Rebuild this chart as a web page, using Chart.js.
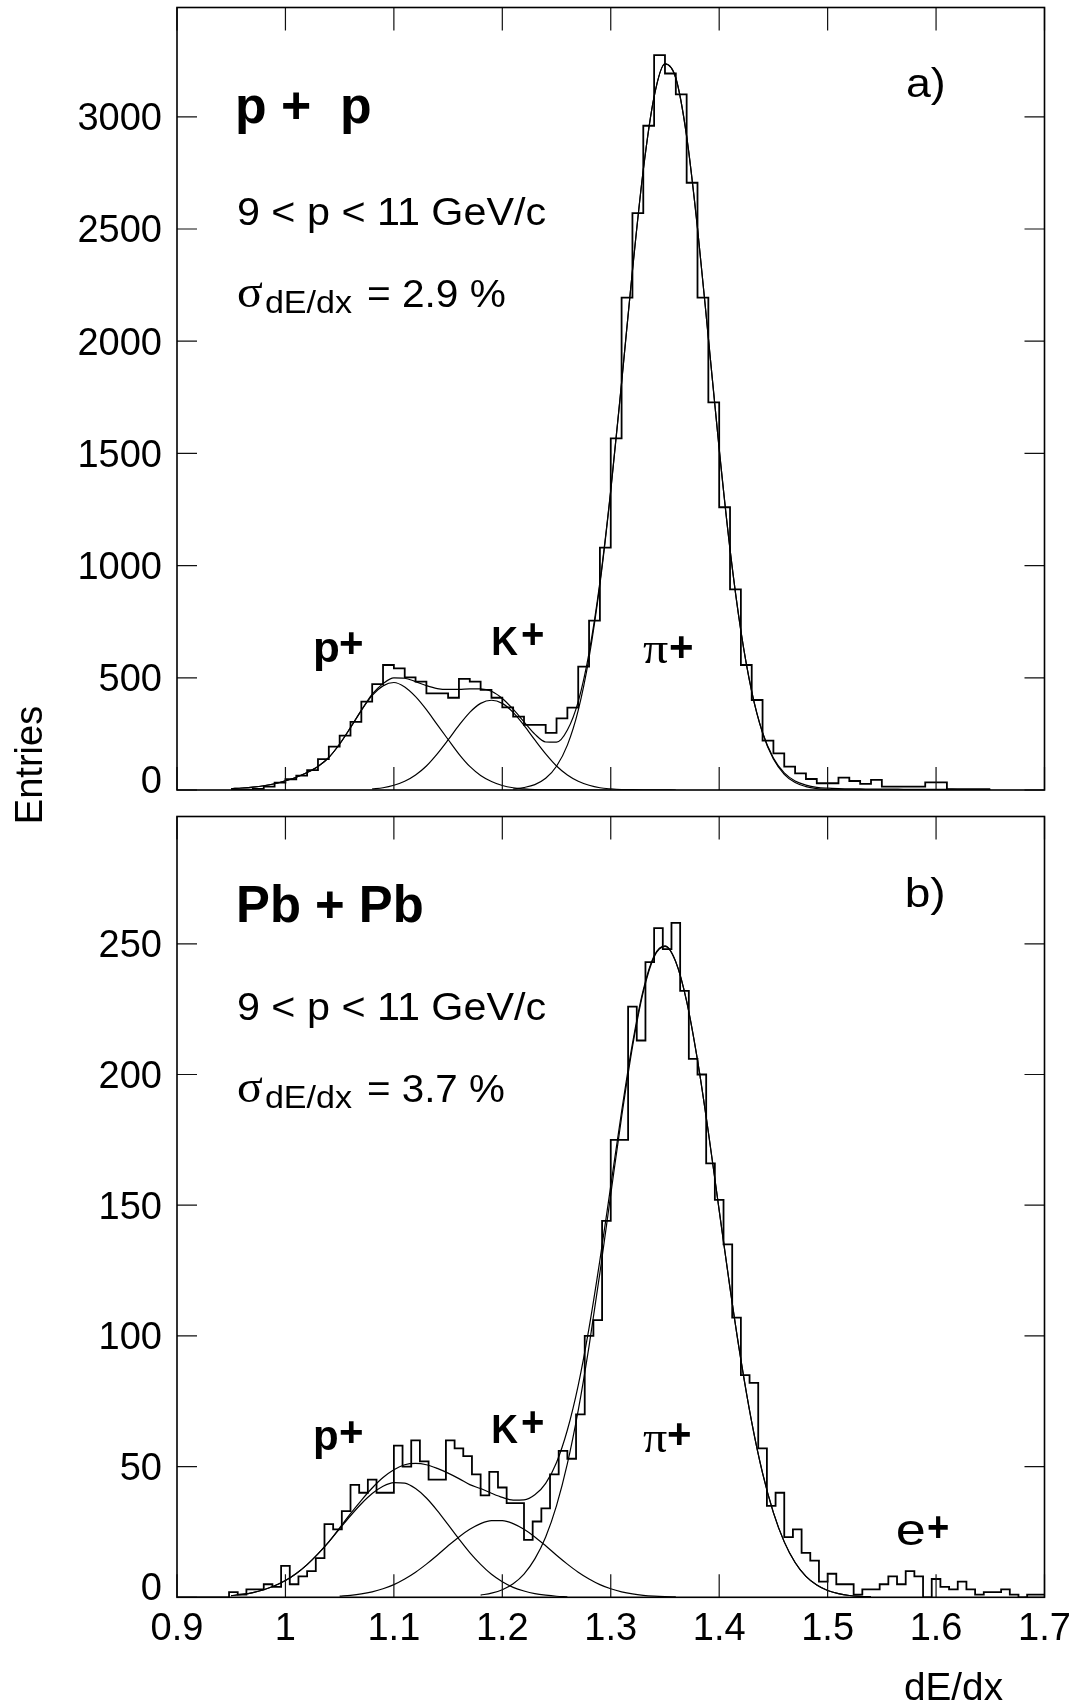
<!DOCTYPE html>
<html><head><meta charset="utf-8">
<script src="https://cdn.jsdelivr.net/npm/chart.js"></script>
<style>
html,body{margin:0;padding:0;background:#fff;width:1077px;height:1705px;overflow:hidden}
canvas{position:absolute;left:0;top:0}
</style></head><body>
<canvas id="c1" width="1077" height="1705"></canvas>
<canvas id="c2" width="1077" height="1705"></canvas>
<script>
// ---------- axes ----------
const xMin = 0.9, xMax = 1.7;
const xTickValues = [0.9, 1.0, 1.1, 1.2, 1.3, 1.4, 1.5, 1.6, 1.7];
const xTickLabels = ['0.9', '1', '1.1', '1.2', '1.3', '1.4', '1.5', '1.6', '1.7'];
const ppYMax = 3487;
const ppYTicks = [0, 500, 1000, 1500, 2000, 2500, 3000];
const pbYMax = 298.7;
const pbYTicks = [0, 50, 100, 150, 200, 250];

// ---------- p + p histogram (bins of 0.01 starting at 0.95) ----------
const ppBinStart = 0.95, ppBinWidth = 0.01;
const ppCounts = [
  0, 2, 5, 15, 33, 48, 64, 89, 138, 193,
  242, 304, 394, 472, 557, 542, 502, 483, 431, 431,
  411, 495, 483, 446, 411, 368, 327, 290, 290, 255,
  319, 367, 550, 755, 1080, 1567, 2194, 2571, 2960, 3275,
  3193, 3100, 2706, 2194, 1727, 1260, 894, 557, 401, 220,
  163, 104, 74, 49, 30, 30, 55, 40, 27, 45,
  15, 15, 15, 15, 34, 34, 4, 4, 4, 4
];
// fit curves, sampled every 0.01
const fitStep = 0.01;
const ppTotalStart = 0.95;
const ppTotal = [6, 9, 13, 19, 28, 41, 57, 78, 105, 145, 205, 278, 355, 427, 474, 500, 498, 483, 465, 452,
  448, 448, 451, 451, 440, 408, 360, 304, 249, 214, 213, 267, 394, 611, 926, 1337, 1816, 2315, 2763, 3090,
  3236, 3173, 2913, 2504, 2015, 1520, 1072, 709, 440, 256, 142, 76, 40, 22, 12, 8, 6, 5, 5, 4,
  4, 4, 3, 3, 3, 3, 3, 2, 2, 2, 2];
const ppProtonStart = 0.95;
const ppProton = [6, 9, 13, 19, 28, 41, 57, 78, 105, 145, 205, 278, 355, 422, 464, 479, 459, 416, 358, 291,
  225, 160, 105, 65, 38, 20, 10, 5, 2, 1, 0.5, 0.3, 0.2, 0.1, 0.1, 0];
const ppKaonStart = 1.08;
const ppKaon = [5, 10, 21, 39, 67, 107, 161, 223, 288, 346, 386, 400, 386, 346, 288, 223, 161, 107, 67, 39,
  21, 10, 5, 2, 1.3, 0.8, 0.4, 0.2, 0.1];
const ppPionStart = 1.21;
const ppPion = [4, 11, 24, 52, 106, 200, 355, 590, 916, 1332, 1814, 2314, 2763, 3090, 3236, 3173, 2913, 2504, 2015, 1520,
  1072, 709, 438, 254, 138, 70, 33, 15, 6, 2, 1, 0.5, 0.2, 0.1, 0];

// ---------- Pb + Pb histogram (bins of 0.008 starting at 0.9) ----------
const pbBinStart = 0.9, pbBinWidth = 0.008;
const pbCounts = [
  0, 0, 0, 0, 0, 0, 2, 1, 3, 3,
  5, 4, 12, 5, 8, 10, 15, 28, 26, 33,
  43, 40, 45, 40, 40, 58, 50, 60, 52, 45,
  45, 60, 57, 54, 47, 39, 48, 42, 36, 36,
  22, 29, 34, 47, 56, 53, 70, 100, 106, 144,
  175, 175, 226, 213, 243, 256, 248, 258, 232, 206,
  200, 166, 152, 135, 107, 85, 82, 57, 35, 40,
  23, 26, 17, 14, 6, 9, 5, 5, 1, 3,
  3, 5, 8, 5, 10, 8, 0, 7, 4, 3,
  6, 3, 1, 2, 2, 3, 1, 0, 1, 1
];
const pbTotalStart = 0.95;
const pbTotal = [0.65, 1.1, 1.8, 2.9, 4.4, 6.4, 9.1, 12.5, 16.6, 21.2, 26.6, 32.0, 37.1, 41.8, 45.8, 48.8, 50.7, 51.2, 50.7, 49.3,
  47.5, 45.4, 43.1, 41.6, 39.8, 38.2, 37.2, 37.3, 39.2, 43.6, 51.6, 64.0, 81.1, 103.1, 129.0, 157.4, 185.8, 211.8, 232.4, 245.4,
  249.2, 243.1, 228, 205.5, 178, 148, 118.3, 90.9, 67, 47.5, 32.4, 21.2, 13.3, 8, 4.7, 2.6, 1.4, 0.7, 0.35, 0.17];
const pbProtonStart = 0.95;
const pbProton = [0.65, 1.1, 1.8, 2.9, 4.4, 6.4, 9.1, 12.5, 16.6, 21.2, 26.2, 31.2, 35.8, 39.7, 42.5, 43.9, 43.7, 41.6, 38.0, 33.2,
  27.8, 22.3, 17.1, 12.6, 8.8, 5.95, 3.8, 2.4, 1.4, 0.8, 0.4, 0.2];
const pbKaonStart = 1.05;
const pbKaon = [0.44, 0.77, 1.3, 2.1, 3.25, 4.85, 7.0, 9.6, 12.7, 16.1, 19.7, 23.1, 26.0, 28.2, 29.35, 29.35, 28.2, 26.0, 23.1, 19.7,
  16.1, 12.7, 9.6, 7.0, 4.85, 3.25, 2.1, 1.3, 0.77, 0.44, 0.24, 0.13];
const pbPionStart = 1.18;
const pbPion = [0.82, 1.6, 2.9, 5.2, 8.9, 14.7, 23.1, 35.1, 51.1, 71.5, 96.1, 124.1, 154.1, 183.7, 210.5, 231.6, 245, 249, 243, 228,
  205.5, 178, 148, 118.3, 90.9, 67, 47.5, 32.4, 21.2, 13.3, 8, 4.7, 2.6, 1.4, 0.7, 0.35, 0.17];

// ---------- helpers ----------
const SANS = '"Liberation Sans", Arial, Helvetica, sans-serif';
const SERIF = '"Liberation Serif", "Times New Roman", serif';

function histPoints(start, width, counts) {
  const pts = counts.map((c, i) => ({x: +(start + i * width).toFixed(5), y: c}));
  pts.push({x: +(start + counts.length * width).toFixed(5), y: counts[counts.length - 1]});
  return pts;
}
function curvePoints(start, step, vals) {
  return vals.map((v, i) => ({x: +(start + i * step).toFixed(5), y: v}));
}
// draw text so that its ink spans [left,right]; baseline or vertical ink centre given
function inkText(ctx, t) {
  ctx.save();
  ctx.font = t.font;
  ctx.textAlign = 'left';
  ctx.textBaseline = 'alphabetic';
  const m = ctx.measureText(t.s);
  const inkW = m.actualBoundingBoxLeft + m.actualBoundingBoxRight;
  const sx = (t.right != null) ? (t.right - t.left) / inkW : 1;
  let base = t.base;
  if (t.cy != null) base = t.cy + (m.actualBoundingBoxAscent - m.actualBoundingBoxDescent) / 2;
  ctx.translate(t.left, base);
  ctx.scale(sx, 1);
  ctx.fillStyle = '#000';
  ctx.fillText(t.s, m.actualBoundingBoxLeft, 0);
  ctx.restore();
}

function framePlugin(cfg) {
  return {
    id: 'frame_' + cfg.id,
    afterDraw(chart) {
      const {ctx, chartArea: a, scales: {x, y}} = chart;
      ctx.save();
      ctx.strokeStyle = '#111';
      ctx.lineWidth = 1.2;
      ctx.beginPath();
      for (const v of xTickValues) {
        const px = x.getPixelForValue(v);
        ctx.moveTo(px, a.bottom); ctx.lineTo(px, a.bottom - 23);
        ctx.moveTo(px, a.top); ctx.lineTo(px, a.top + 23);
      }
      for (const v of cfg.yTicks) {
        const py = y.getPixelForValue(v);
        ctx.moveTo(a.left, py); ctx.lineTo(a.left + 20, py);
        ctx.moveTo(a.right, py); ctx.lineTo(a.right - 20, py);
      }
      ctx.stroke();
      ctx.lineWidth = 1.6;
      ctx.strokeStyle = '#000';
      ctx.strokeRect(a.left, a.top, a.right - a.left, a.bottom - a.top);

      // y tick labels
      ctx.fillStyle = '#000';
      ctx.font = '38px ' + SANS;
      ctx.textAlign = 'right';
      ctx.textBaseline = 'alphabetic';
      for (const v of cfg.yTicks) {
        let py = y.getPixelForValue(v);
        if (v === 0) py -= 11;
        ctx.fillText(String(v), 162, py + 13.5);
      }
      // x tick labels
      if (cfg.xLabels) {
        ctx.textAlign = 'center';
        xTickValues.forEach((v, i) => {
          ctx.fillText(xTickLabels[i], x.getPixelForValue(v), a.bottom + 43);
        });
      }
      for (const t of cfg.texts) inkText(ctx, t);
      if (cfg.extra) cfg.extra(ctx);
      ctx.restore();
    }
  };
}

function makeChart(id, cfg) {
  const curveDs = cfg.curves.map(c => ({
    data: curvePoints(c.start, fitStep, c.values),
    borderColor: '#000', borderWidth: 1.2, pointRadius: 0, fill: false,
    cubicInterpolationMode: 'monotone'
  }));
  return new Chart(document.getElementById(id), {
    type: 'line',
    data: {
      datasets: [{
        data: histPoints(cfg.binStart, cfg.binWidth, cfg.counts),
        stepped: 'before', borderColor: '#000', borderWidth: 1.8, pointRadius: 0, fill: false
      }].concat(curveDs)
    },
    options: {
      responsive: false, animation: false, devicePixelRatio: 1, events: [],
      layout: {padding: {left: 177, right: 32.5, top: cfg.padTop, bottom: cfg.padBottom}},
      plugins: {legend: {display: false}, tooltip: {enabled: false}, title: {display: false}},
      scales: {
        x: {type: 'linear', min: xMin, max: xMax, display: false},
        y: {type: 'linear', min: 0, max: cfg.yMax, display: false}
      }
    },
    plugins: [framePlugin(cfg)]
  });
}

const B = 'bold ';
makeChart('c1', {
  id: 'pp', binStart: ppBinStart, binWidth: ppBinWidth, counts: ppCounts,
  curves: [
    {start: ppTotalStart, values: ppTotal},
    {start: ppProtonStart, values: ppProton},
    {start: ppKaonStart, values: ppKaon},
    {start: ppPionStart, values: ppPion}
  ],
  yMax: ppYMax, yTicks: ppYTicks, padTop: 7.5, padBottom: 915, xLabels: false,
  texts: [
    {s: 'p +  p', font: B + '52px ' + SANS, left: 238, right: 370, base: 123},
    {s: '9 < p < 11 GeV/c', font: '38px ' + SANS, left: 238, right: 545, base: 225},
    {s: 'σ', font: '46px ' + SERIF, left: 238, right: 263, base: 307},
    {s: 'dE/dx', font: '32px ' + SANS, left: 266, right: 352, base: 313},
    {s: '= 2.9 %', font: '38px ' + SANS, left: 368, right: 505, base: 307},
    {s: 'a)', font: '40px ' + SANS, left: 907, right: 943, base: 97},
    {s: 'p', font: B + '42px ' + SANS, left: 315, right: 338, base: 662},
    {s: '+', font: B + '42px ' + SANS, left: 340, right: 362, cy: 643},
    {s: 'K', font: B + '40px ' + SANS, left: 493, right: 518, base: 655},
    {s: '+', font: B + '42px ' + SANS, left: 522, right: 543, cy: 634},
    {s: 'π', font: '44px ' + SERIF, left: 643, right: 668, base: 663},
    {s: '+', font: B + '42px ' + SANS, left: 670, right: 692, cy: 647}
  ],
  extra(ctx) {
    ctx.save();
    ctx.font = '38px ' + SANS;
    ctx.translate(42, 765);
    ctx.rotate(-Math.PI / 2);
    ctx.textAlign = 'center';
    ctx.textBaseline = 'alphabetic';
    ctx.fillStyle = '#000';
    ctx.fillText('Entries', 0, 0);
    ctx.restore();
  }
});

makeChart('c2', {
  id: 'pb', binStart: pbBinStart, binWidth: pbBinWidth, counts: pbCounts,
  curves: [
    {start: pbTotalStart, values: pbTotal},
    {start: pbProtonStart, values: pbProton},
    {start: pbKaonStart, values: pbKaon},
    {start: pbPionStart, values: pbPion}
  ],
  yMax: pbYMax, yTicks: pbYTicks, padTop: 816.5, padBottom: 107.7, xLabels: true,
  texts: [
    {s: 'Pb + Pb', font: B + '52px ' + SANS, left: 239, right: 422, base: 922},
    {s: '9 < p < 11 GeV/c', font: '38px ' + SANS, left: 238, right: 545, base: 1020},
    {s: 'σ', font: '46px ' + SERIF, left: 238, right: 263, base: 1102},
    {s: 'dE/dx', font: '32px ' + SANS, left: 266, right: 352, base: 1108},
    {s: '= 3.7 %', font: '38px ' + SANS, left: 368, right: 504, base: 1102},
    {s: 'b)', font: '40px ' + SANS, left: 907, right: 943, base: 907},
    {s: 'p', font: B + '42px ' + SANS, left: 315, right: 337, base: 1450},
    {s: '+', font: B + '42px ' + SANS, left: 340, right: 362, cy: 1432},
    {s: 'K', font: B + '40px ' + SANS, left: 493, right: 518, base: 1443},
    {s: '+', font: B + '42px ' + SANS, left: 522, right: 543, cy: 1422},
    {s: 'π', font: '44px ' + SERIF, left: 643, right: 667, base: 1452},
    {s: '+', font: B + '42px ' + SANS, left: 668, right: 690, cy: 1434},
    {s: 'e', font: '44px ' + SANS, left: 897, right: 924, base: 1545},
    {s: '+', font: B + '42px ' + SANS, left: 928, right: 948, cy: 1527},
    {s: 'dE/dx', font: '38px ' + SANS, left: 905, right: 1003, base: 1700}
  ]
});
</script>
</body></html>
